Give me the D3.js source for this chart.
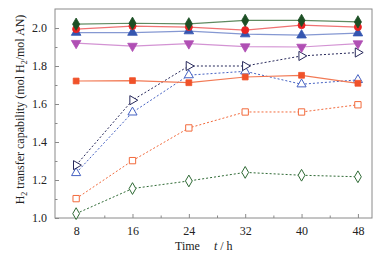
<!DOCTYPE html>
<html>
<head>
<meta charset="utf-8">
<script src="https://cdn.jsdelivr.net/npm/d3@7"></script>
<style>
  body { margin: 0; background: #fff; }
  svg text { font-family: "Liberation Serif", "Times New Roman", Times, serif !important; fill: #222; }
</style>
</head>
<body>
<div id="chart"></div>
<script>
// hours
var times = [8, 16, 24, 32, 40, 48];
var xTicks = [8, 16, 24, 32, 40, 48];
var yTicks = [1.0, 1.2, 1.4, 1.6, 1.8, 2.0];

var greenFilled = [2.02, 2.025, 2.022, 2.04, 2.04, 2.032];
var redFilled = [1.994, 2.01, 2.005, 1.989, 2.015, 2.005];
var blueFilled = [1.976, 1.976, 1.984, 1.968, 1.962, 1.973];
var magentaFilled = [1.92, 1.905, 1.918, 1.902, 1.9, 1.918];
var orangeFilled = [1.721, 1.723, 1.712, 1.742, 1.751, 1.709];
var navyOpen = [1.278, 1.62, 1.8, 1.8, 1.853, 1.871];
var blueOpen = [1.237, 1.556, 1.752, 1.772, 1.704, 1.727];
var orangeOpen = [1.102, 1.302, 1.474, 1.558, 1.558, 1.596];
var greenOpen = [1.023, 1.155, 1.195, 1.24, 1.225, 1.217];

var series = [
  { vals: greenOpen, color: "#2f6a35", line: "#2f6a35", sym: d3.symbolDiamond, fill: false, dash: "2,2", size: 40 },
  { vals: orangeOpen, color: "#f26a3c", line: "#f26a3c", sym: d3.symbolSquare, fill: false, dash: "2,2", size: 40 },
  { vals: blueOpen, color: "#4561c2", line: "#4561c2", sym: d3.symbolTriangle, fill: false, dash: "2,2", size: 36 },
  { vals: navyOpen, color: "#27285a", line: "#27285a", sym: d3.symbolTriangle, rot: 90, fill: false, dash: "2,2", size: 36 },
  { vals: orangeFilled, color: "#f0522a", line: "#f27a55", sym: d3.symbolSquare, fill: true, size: 34 },
  { vals: magentaFilled, color: "#b04fb4", line: "#d393d3", sym: d3.symbolTriangle, rot: 180, fill: true, size: 40 },
  { vals: blueFilled, color: "#3556b0", line: "#8598d2", sym: d3.symbolTriangle, fill: true, size: 40 },
  { vals: redFilled, color: "#e92222", line: "#f07272", sym: d3.symbolCircle, fill: true, size: 40 },
  { vals: greenFilled, color: "#1c4f24", line: "#5f8a60", sym: d3.symbolDiamond, fill: true, size: 44 }
];

var W = 387, H = 257;
var margin = { top: 9, right: 15, bottom: 39, left: 55 };

var svg = d3.select("#chart").append("svg").attr("width", W).attr("height", H);

var x = d3.scaleLinear().domain([5, 50]).range([margin.left, W - margin.right]);
var y = d3.scaleLinear().domain([1.0, 2.1]).range([H - margin.bottom, margin.top]);

// frame
svg.append("rect")
  .attr("x", margin.left).attr("y", margin.top)
  .attr("width", W - margin.left - margin.right)
  .attr("height", H - margin.top - margin.bottom)
  .attr("fill", "none").attr("stroke", "#8a8a8a").attr("stroke-width", 1);

svg.append("g")
  .attr("transform", `translate(0,${H - margin.bottom})`)
  .call(d3.axisBottom(x).tickValues(xTicks).tickSizeInner(-4).tickSizeOuter(0).tickPadding(8).tickFormat(d3.format("d")));
svg.append("g")
  .attr("transform", `translate(0,${H - margin.bottom})`)
  .call(d3.axisBottom(x).tickValues([12, 20, 28, 36, 44]).tickSize(-2.5).tickFormat(""));

svg.append("g")
  .attr("transform", `translate(${margin.left},0)`)
  .call(d3.axisLeft(y).tickValues(yTicks).tickSizeInner(-4).tickSizeOuter(0).tickPadding(8).tickFormat(d3.format(".1f")));
svg.append("g")
  .attr("transform", `translate(${margin.left},0)`)
  .call(d3.axisLeft(y).tickValues([1.1, 1.3, 1.5, 1.7, 1.9]).tickSize(-2.5).tickFormat(""));

svg.selectAll(".domain").remove();
svg.selectAll("g").attr("font-family", null);
svg.selectAll(".tick line").attr("stroke", "#8a8a8a");
svg.selectAll(".tick text").style("font-size", "12px").attr("fill", "#222");

// axis titles
var xt = svg.append("text")
  .attr("x", 175).attr("y", 250)
  .style("font-size", "12px");
xt.append("tspan").text("Time");
xt.append("tspan").attr("dx", 14).style("font-style", "italic").text("t");
xt.append("tspan").text(" / h");

var yt = svg.append("text")
  .attr("transform", `translate(24,${(margin.top + H - margin.bottom) / 2 - 4}) rotate(-90)`)
  .attr("text-anchor", "middle")
  .style("font-size", "12px");
yt.append("tspan").text("H");
yt.append("tspan").attr("dy", 3).style("font-size", "8px").text("2");
yt.append("tspan").attr("dy", -3).text(" transfer capability (mol H");
yt.append("tspan").attr("dy", 3).style("font-size", "8px").text("2");
yt.append("tspan").attr("dy", -3).text("/mol AN)");

var line = d3.line().x((d, i) => x(times[i])).y((d) => y(d));

series.forEach(function (s) {
  svg.append("path")
    .datum(s.vals)
    .attr("d", line)
    .attr("fill", "none")
    .attr("stroke", s.line)
    .attr("stroke-width", s.fill ? 1.2 : 1)
    .attr("stroke-dasharray", s.dash || null);

  svg.append("g")
    .selectAll("path")
    .data(s.vals)
    .join("path")
    .attr("d", d3.symbol().type(s.sym).size(s.size))
    .attr("transform", (d, i) => `translate(${x(times[i])},${y(d)}) rotate(${s.rot || 0})`)
    .attr("fill", s.fill ? s.color : "#fff")
    .attr("stroke", s.color)
    .attr("stroke-width", s.fill ? 0.8 : 1);
});
</script>
</body>
</html>
